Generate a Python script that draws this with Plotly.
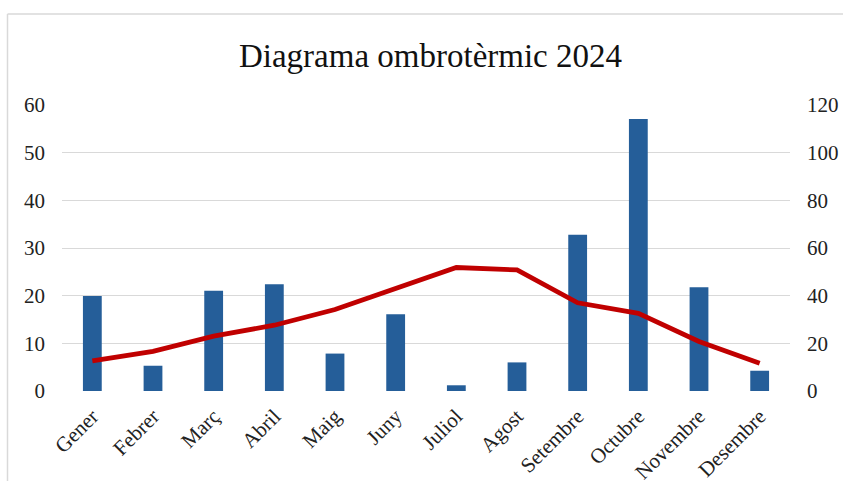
import plotly.graph_objects as go

months = ["Gener", "Febrer", "Març", "Abril", "Maig", "Juny", "Juliol",
          "Agost", "Setembre", "Octubre", "Novembre", "Desembre"]
precip = [39.9, 10.6, 42.1, 44.8, 15.7, 32.2, 2.4, 12.0, 65.6, 114.1, 43.5, 8.5]
temp = [6.3, 8.3, 11.5, 13.8, 17.1, 21.5, 25.9, 25.4, 18.5, 16.3, 10.4, 5.8]
left_ticks = [0, 10, 20, 30, 40, 50, 60]
right_ticks = [0, 20, 40, 60, 80, 100, 120]

W, H = 843, 481
L, R, T, B = 62, 53, 105, 90
pw, ph = W - L - R, H - T - B

font_family = "Liberation Serif, Times New Roman, serif"

fig = go.Figure()
fig.add_trace(go.Bar(x=months, y=precip, yaxis="y", marker=dict(color="#255e99", line=dict(width=0)),
                     name="Precipitació"))
fig.add_trace(go.Scatter(x=months, y=temp, yaxis="y2", mode="lines",
                         line=dict(color="#c00000", width=4.8), name="Temperatura"))

def px_x(p):
    return (p - L) / pw

def px_y(p):
    return (H - B - p) / ph

fig.update_layout(
    width=W, height=H,
    margin=dict(l=L, r=R, t=T, b=B, autoexpand=False),
    paper_bgcolor="white", plot_bgcolor="white",
    showlegend=False,
    bargap=0.69,
    title=dict(text="Diagrama ombrotèrmic 2024", x=430.5 / W, xanchor="center",
               y=1 - 55 / H, yanchor="middle",
               font=dict(family=font_family, size=33, color="#111111")),
    xaxis=dict(tickangle=-45, tickfont=dict(family=font_family, size=21, color="#222222"),
               showgrid=False, showline=False, ticks="", zeroline=False, ticklabelstandoff=8,
               automargin=False),
    yaxis=dict(side="right", range=[0, 120], tickvals=right_ticks,
               showgrid=True, gridcolor="#d9d9d9", gridwidth=1.3, zeroline=False,
               tickfont=dict(family=font_family, size=21, color="#222222"), ticklabelstandoff=16,
               automargin=False),
    yaxis2=dict(side="left", overlaying="y", range=[0, 60], tickvals=left_ticks,
                showgrid=False, zeroline=False,
                tickfont=dict(family=font_family, size=21, color="#222222"), ticklabelstandoff=16,
                automargin=False),
    shapes=[
        dict(type="line", xref="paper", yref="paper", x0=px_x(7.5), x1=px_x(845),
             y0=px_y(14), y1=px_y(14), line=dict(color="#d9d9d9", width=1.5)),
        dict(type="line", xref="paper", yref="paper", x0=px_x(7.5), x1=px_x(7.5),
             y0=px_y(14), y1=px_y(490), line=dict(color="#d9d9d9", width=1.5)),
    ],
)

fig.write_html("out.html")
